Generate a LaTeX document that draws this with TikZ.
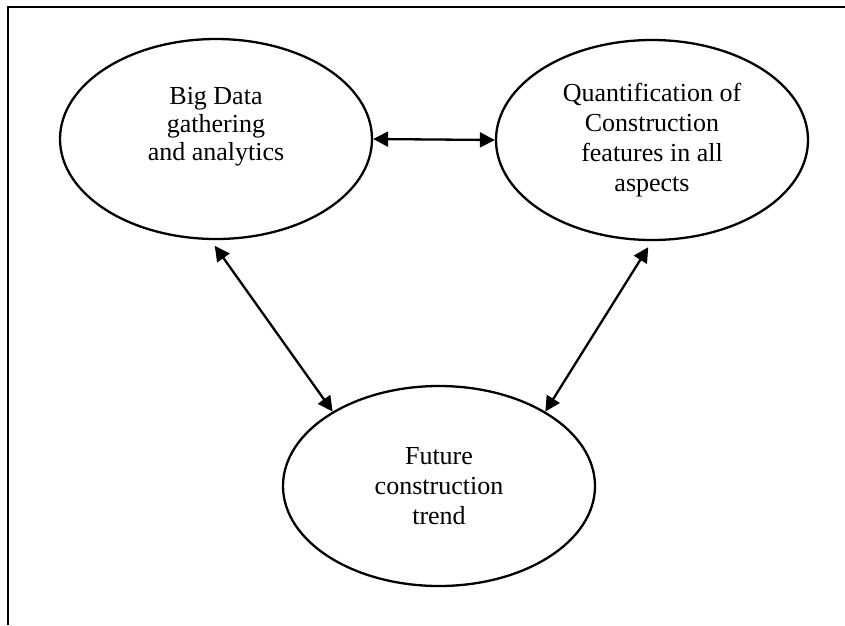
\documentclass[tikz,border=0pt]{standalone}
\usepackage{fontspec}
\setmainfont{Liberation Serif}
\usetikzlibrary{shapes,arrows.meta}
\tikzset{every picture/.style={line width=0.75pt}}

\begin{document}
\begin{tikzpicture}[x=1pt,y=-1pt,
  bubble/.style={ellipse,draw,line width=2.3pt,minimum width=312pt,minimum height=200pt,inner sep=0pt},
  words/.style={align=center,inner sep=0pt,font=\fontsize{26}{30}\selectfont},
  link/.style={{Triangle[length=15pt,width=15pt]}-{Triangle[length=15pt,width=15pt]},line width=2.3pt}]
\useasboundingbox (0,0) rectangle (845,625);
\draw[line width=2.5pt] (8,625) -- (8,7) -- (845,7);
%
\node[bubble] (data) at (216,139) {};
\node[bubble] (quant) at (652,140) {};
\node[bubble] (trend) at (439,486) {};
%
\node[words,font=\fontsize{26}{28}\selectfont] (data-text) at ([yshift=12pt]data.center) {Big Data\\gathering\\and analytics};
\node[words] (quant-text) at (quant.center) {Quantification of\\Construction\\features in all\\aspects};
\node[words] (trend-text) at (trend.center) {Future\\construction\\trend};
%
\draw[link] (data.east) to (quant.west);
\foreach \Source/\Target in {%
	data.267/trend.145,
	quant.south/trend.35%
    }
\draw[link,shorten <=7pt] (\Source) to (\Target);
\end{tikzpicture}
\end{document}
